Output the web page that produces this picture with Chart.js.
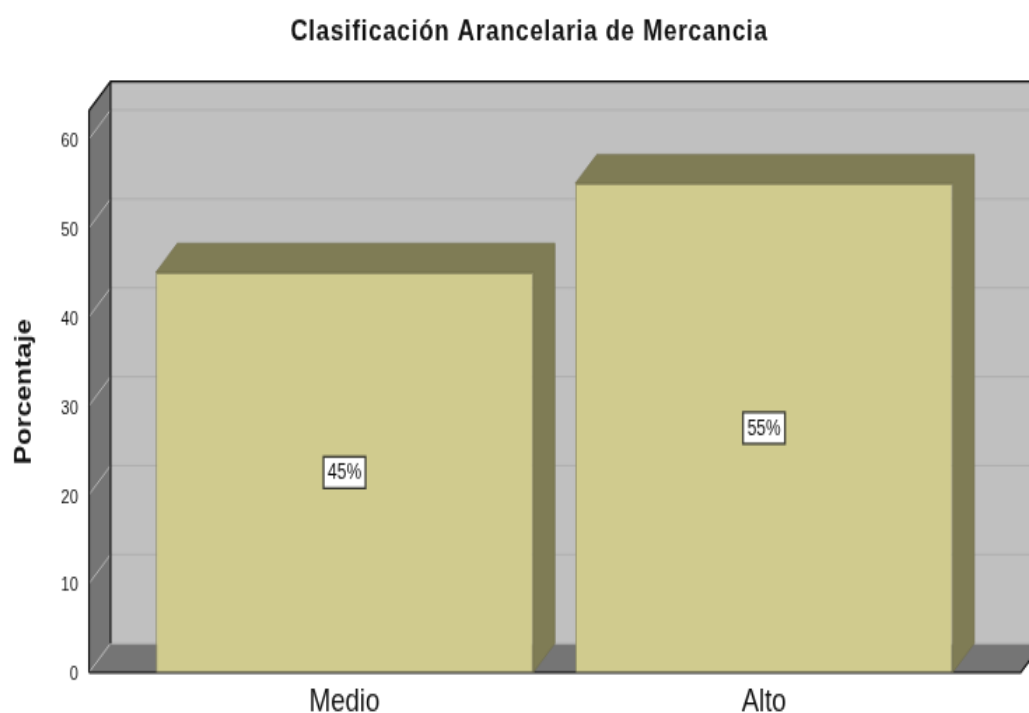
<!DOCTYPE html>
<html><head><meta charset="utf-8">
<style>
html,body{margin:0;padding:0;background:#fff;width:1029px;height:713px;overflow:hidden}
#wrap{position:absolute;left:0;top:0;transform-origin:0 0;transform:scale(1.4,1.7475);width:735px;height:408px}
canvas{display:block}
</style>
<script src="https://cdn.jsdelivr.net/npm/chart.js@4"></script>
</head><body>
<div id="wrap"><canvas id="c" width="735" height="408"></canvas></div>
<script>
const categories = ['Medio', 'Alto'];
const percentages = [45, 55];
const percentLabels = ['45%', '55%'];
const yTicks = [0, 10, 20, 30, 40, 50, 60];
const chartTitle = 'Clasificación Arancelaria de Mercancia';
const yTitle = 'Porcentaje';

const FONT = 'Arial, "Liberation Sans", sans-serif';
const DX = 15.4, DY = 16.6;          // oblique depth of the 3D box
const WALL_OUT_L = 32.7, WALL_OUT_R = 33.5; // floor overhang beyond the category band

const walls = {
  id: 'walls',
  afterLayout(chart) {
    const tb = chart.titleBlock;
    tb.left = 21;
    tb.right = 735;
    if (!tb._spaced) {
      tb._spaced = true;
      const draw = tb.draw;
      tb.draw = function () {
        chart.ctx.save();
        chart.ctx.letterSpacing = '0.7px';
        draw.call(tb);
        chart.ctx.restore();
      };
    }
  },
  beforeDraw(chart) {
    const c = chart.ctx, a = chart.chartArea, y = chart.scales.y;
    const L = a.left - WALL_OUT_L, R = a.right + WALL_OUT_R, T = a.top, B = a.bottom;
    const W = chart.width;
    c.save();
    c.fillStyle = '#C0C0C0';
    c.fillRect(L + DX, T - DY, W - L - DX, B - T);
    c.fillStyle = '#757575';
    c.beginPath();
    c.moveTo(L, T); c.lineTo(L + DX, T - DY); c.lineTo(L + DX, B - DY); c.lineTo(L, B);
    c.closePath(); c.fill();
    c.beginPath();
    c.moveTo(L, B); c.lineTo(L + DX, B - DY); c.lineTo(R + DX, B - DY); c.lineTo(R, B);
    c.closePath(); c.fill();
    c.lineWidth = 1;
    yTicks.forEach(v => {
      const p = y.getPixelForValue(v);
      c.strokeStyle = '#B0B0B0';
      c.beginPath(); c.moveTo(L + DX, p - DY); c.lineTo(W, p - DY); c.stroke();
      c.strokeStyle = '#B4B4B4';
      c.beginPath(); c.moveTo(L, p); c.lineTo(L + DX, p - DY); c.stroke();
    });
    c.strokeStyle = '#111';
    c.lineWidth = 1.2;
    c.beginPath();
    c.moveTo(L, B); c.lineTo(L, T); c.lineTo(L + DX, T - DY); c.lineTo(W, T - DY);
    c.moveTo(L + DX, T - DY); c.lineTo(L + DX, B - DY);
    c.moveTo(L, B); c.lineTo(R, B); c.lineTo(R + DX, B - DY);
    c.stroke();
    c.restore();
  },
  beforeDatasetsDraw(chart) {
    const c = chart.ctx;
    c.save();
    chart.getDatasetMeta(0).data.forEach(b => {
      const l = b.x - b.width / 2, r = b.x + b.width / 2, t = b.y, bs = b.base;
      c.fillStyle = '#7F7C55';
      c.strokeStyle = '#6F6C4A';
      c.lineWidth = 0.6;
      c.beginPath();
      c.moveTo(l, t); c.lineTo(l + DX, t - DY); c.lineTo(r + DX, t - DY); c.lineTo(r + DX, bs - DY);
      c.lineTo(r, bs); c.lineTo(r, t); c.closePath();
      c.fill(); c.stroke();
    });
    c.restore();
  },
  afterDatasetsDraw(chart) {
    const c = chart.ctx;
    c.save();
    c.font = '12px ' + FONT;
    c.textAlign = 'center';
    c.textBaseline = 'middle';
    chart.getDatasetMeta(0).data.forEach((b, i) => {
      const cx = b.x, cy = (b.y + b.base) / 2, w = 30, h = 18;
      c.fillStyle = '#fff';
      c.strokeStyle = '#3A3A32';
      c.lineWidth = 1.3;
      c.fillRect(cx - w / 2, cy - h / 2, w, h);
      c.strokeRect(cx - w / 2, cy - h / 2, w, h);
      c.fillStyle = '#111';
      c.fillText(percentLabels[i], cx, cy + 0.5);
    });
    c.restore();
  }
};

new Chart(document.getElementById('c'), {
  type: 'bar',
  data: {
    labels: categories,
    datasets: [{
      data: percentages,
      backgroundColor: '#D0CB8E',
      borderColor: '#908D63',
      borderWidth: 1,
      barPercentage: 0.9,
      categoryPercentage: 1
    }]
  },
  plugins: [walls],
  options: {
    responsive: false,
    animation: false,
    events: [],
    layout: { padding: { left: 0, right: 39.5, top: 0, bottom: 0 } },
    plugins: {
      legend: { display: false },
      tooltip: { enabled: false },
      title: {
        display: true,
        text: chartTitle,
        color: '#111',
        font: { family: FONT, size: 17, weight: 'bold', lineHeight: 1.2 },
        padding: { top: 8.5, bottom: 34.4 }
      }
    },
    scales: {
      x: {
        grid: { display: false, drawTicks: false },
        border: { display: false },
        ticks: { color: '#111', font: { family: FONT, size: 18.5 }, padding: 6.4, maxRotation: 0 },
        afterFit(s) { s.height = 23.2; }
      },
      y: {
        min: 0,
        max: 63.2,
        grid: { display: false, drawTicks: false },
        border: { display: false },
        ticks: {
          stepSize: 10,
          includeBounds: false,
          color: '#111',
          font: { family: FONT, size: 11 },
          padding: 40.5,
          labelOffset: 1.5
        },
        title: {
          display: true,
          text: yTitle,
          color: '#111',
          font: { family: FONT, size: 16.3, weight: 'bold', lineHeight: 1.2 },
          padding: { top: 7.6, bottom: 0 }
        },
        afterFit(s) { s.width = 96.25; s.paddingTop = 0; s.paddingBottom = 0; }
      }
    }
  }
});
</script>
</body></html>
